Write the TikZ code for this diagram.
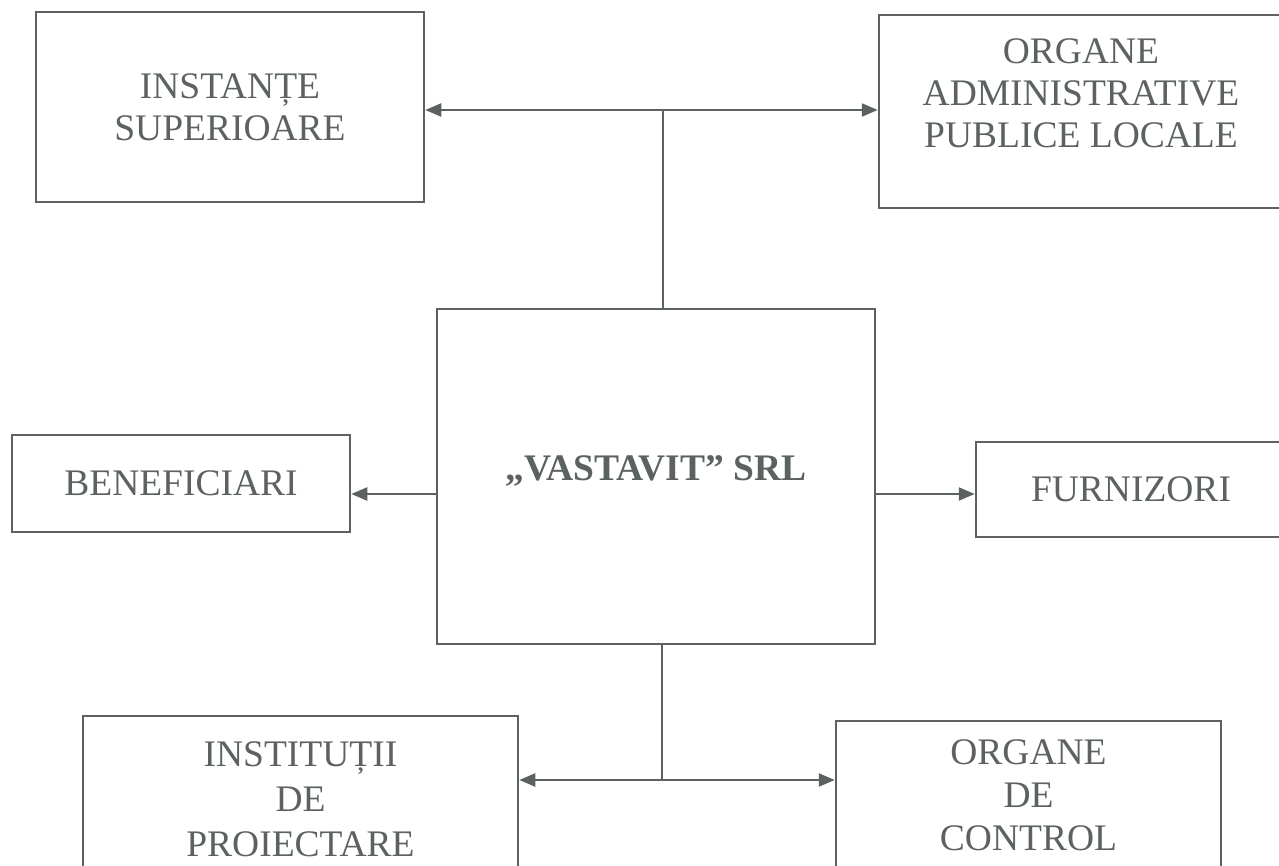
\documentclass[tikz,border=0pt]{standalone}
\usepackage{fontspec}
\setmainfont{Liberation Serif}
\usetikzlibrary{arrows.meta,positioning,calc}
\definecolor{ink}{HTML}{5C6161}

\begin{document}
\begin{tikzpicture}[
  x=1pt, y=-1pt,
  font=\fontsize{37.5pt}{42pt}\selectfont,
  box/.style={draw=ink, line width=2.5pt, align=center, text=ink, inner sep=0pt},
  lbl/.style={align=center, text=ink, inner sep=0pt},
  arr/.style={-{Triangle[length=16pt, width=13pt]}, line width=2.3pt, draw=ink},
  arrs/.style={{Triangle[length=16pt, width=13pt]}-{Triangle[length=16pt, width=13pt]}, line width=2.3pt, draw=ink},
  ln/.style={line width=2.3pt, draw=ink}
]
\useasboundingbox (0,0) rectangle (1279,866);
\fill[white] (0,0) rectangle (1279,866);
\clip (0,0) rectangle (1279,866);

% Top row
\node[box, minimum width=388pt, minimum height=190pt] (inst) at (230,107) {INSTANȚE\\SUPERIOARE};
\node[box, minimum width=404pt, minimum height=193pt,
  label={[lbl, name=admin-t, yshift=18pt]center:{ORGANE\\ADMINISTRATIVE\\PUBLICE LOCALE}}] (admin) at (1081,111.5) {};

% Company
\node[box, minimum width=438pt, minimum height=335pt, text height=26pt, text depth=18pt,
  font=\fontsize{37.5pt}{42pt}\selectfont\bfseries] (vast) at (656,476.5) {„VASTAVIT” SRL};

% Middle row
\node[box, minimum width=338pt, minimum height=97pt] (benef) at (181,483.5) {BENEFICIARI};
\node[box, minimum width=310pt, minimum height=95pt] (furn) at (1131,489.5) {FURNIZORI};

% Bottom row
\node[box, minimum width=435pt, minimum height=166pt] (proj) at (300.5,799) {INSTITUȚII\\[3pt]DE\\[3pt]PROIECTARE};
\node[box, minimum width=385pt, minimum height=149pt] (ctrl) at (1028.5,795.5) {ORGANE\\[1pt]DE\\[1pt]CONTROL};

% Links
\coordinate (topj) at (663,110);
\coordinate (botj) at (662,780);
\coordinate (midrow) at (0,494);
\draw[ln] (vast.north -| topj) -- (topj);
\draw[arrs] (topj -| inst.east) -- (topj -| admin.west);
\draw[arr] (midrow -| vast.west) -- (midrow -| benef.east);
\draw[arr] (midrow -| vast.east) -- (midrow -| furn.west);
\draw[ln] (vast.south -| botj) -- (botj);
\draw[arrs] (botj -| proj.east) -- (botj -| ctrl.west);
\end{tikzpicture}
\end{document}
